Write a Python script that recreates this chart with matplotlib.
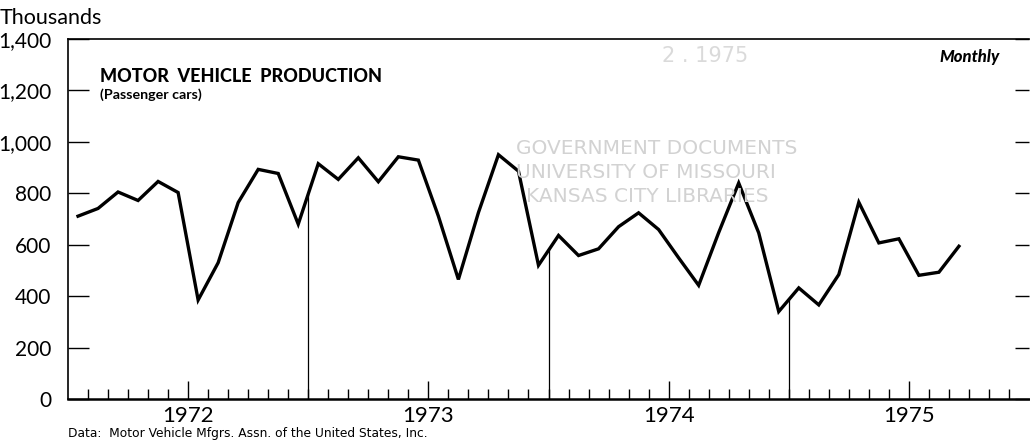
import numpy as np
import matplotlib
matplotlib.use("Agg")
import matplotlib.pyplot as plt

# ---- data (thousands of passenger cars, monthly Jan 1972 - Sep 1975) ----
production = [
    711, 741, 805, 772, 846, 803, 385, 530, 764, 893, 877, 680,   # 1972
    915, 854, 938, 845, 942, 929, 711, 465, 725, 950, 886, 520,   # 1973
    636, 558, 584, 670, 724, 659, 549, 442, 647, 840, 646, 340,   # 1974
    432, 366, 484, 765, 607, 623, 481, 493, 594,                  # 1975
]
years = ["1972", "1973", "1974", "1975"]
y_ticks = [0, 200, 400, 600, 800, 1000, 1200, 1400]
y_tick_labels = ["0", "200", "400", "600", "800", "1,000", "1,200", "1,400"]

FONT = "Lato"
W, H = 1030, 447
fig = plt.figure(figsize=(W / 100, H / 100), dpi=100)
L, R, T, B = 68, 1029, 39, 399
ax = fig.add_axes([L / W, (H - B) / H, (R - L) / W, (B - T) / H])

n_months = 12 * len(years)
x = np.arange(len(production)) + 0.5
ax.plot(x, production, color="black", lw=2.4, solid_joinstyle="miter", zorder=3)

# year boundary lines up to the data line
for k in range(1, len(years)):
    xb = 12 * k
    yb = np.interp(xb, x, production)
    ax.plot([xb, xb], [0, yb], color="black", lw=0.9, zorder=2)

ax.set_xlim(0, n_months)
ax.set_ylim(0, 1400)

# x ticks
major = [12 * k + 6 for k in range(len(years))]
minor = [m for m in range(1, n_months) if m not in major]
ax.set_xticks(major)
ax.set_xticklabels(years, fontsize=16, family=FONT)
ax.set_xticks(minor, minor=True)
ax.tick_params(axis="x", which="major", direction="in", length=13, width=1.0, pad=5)
ax.tick_params(axis="x", which="minor", direction="in", length=7, width=1.0)

# y ticks
ax.set_yticks(y_ticks)
ax.set_yticklabels(y_tick_labels, fontsize=15, family=FONT)
ax.tick_params(axis="y", which="major", direction="in", length=15, width=1.0,
               pad=12, right=True, left=True)
for t in ax.yaxis.get_major_ticks():
    t.tick2line.set_markersize(10)

for s in ["left", "top"]:
    ax.spines[s].set_linewidth(1.2)
ax.spines["bottom"].set_linewidth(1.8)
ax.spines["right"].set_visible(False)

# texts
fig.text(0 / W, 1 - 18 / H, "Thousands", fontsize=15.5, family=FONT,
         va="center", ha="left")
fig.text(100 / W, 1 - 76 / H, "MOTOR  VEHICLE  PRODUCTION", fontsize=13,
         family=FONT, weight="black", va="center", ha="left")
fig.text(100 / W, 1 - 95 / H, "(Passenger cars)", fontsize=10.3, family=FONT,
         weight="bold", va="center", ha="left")
fig.text(1000 / W, 1 - 57 / H, "Monthly", fontsize=12, family=FONT,
         weight="black", style="italic", va="center", ha="right")
fig.text(68 / W, 1 - 434 / H,
         "Data:  Motor Vehicle Mfgrs. Assn. of the United States, Inc.",
         fontsize=8.8, family="Liberation Sans Narrow", va="center", ha="left")

# faint library stamp
stamp = dict(color="#d2d2d2", family="DejaVu Sans", fontsize=14.5,
             va="center", ha="left")
fig.text(516 / W, 1 - 149 / H, "GOVERNMENT DOCUMENTS", **stamp)
fig.text(516 / W, 1 - 172 / H, "UNIVERSITY OF MISSOURI", **stamp)
fig.text(526 / W, 1 - 197 / H, "KANSAS CITY LIBRARIES", **stamp)
fig.text(662 / W, 1 - 56 / H, "2 . 1975", color="#dadada",
         family="DejaVu Sans", fontsize=15, va="center", ha="left")

fig.savefig("out.png", dpi=100)
